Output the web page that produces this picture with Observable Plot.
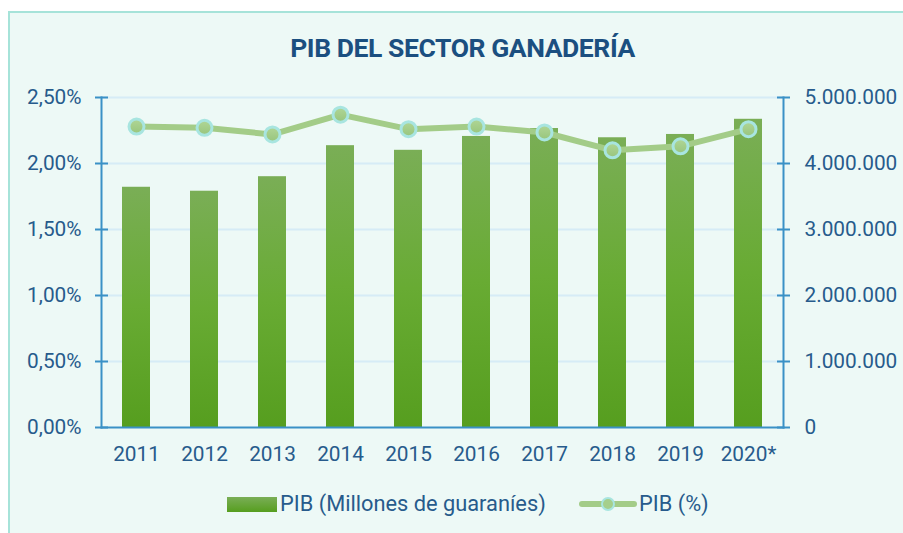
<!DOCTYPE html>
<html>
<head>
<meta charset="utf-8">
<script src="https://cdn.jsdelivr.net/npm/d3@7"></script>
<script src="https://cdn.jsdelivr.net/npm/@observablehq/plot@0.6"></script>
<style>
  html, body { margin: 0; padding: 0; background: #ffffff; }
  body { width: 903px; height: 533px; overflow: hidden; position: relative; font-family: Roboto, "Noto Sans", sans-serif; }
  #frame { position: absolute; left: 8px; top: 11px; width: 1000px; height: 600px; border-left: 2px solid #a6e3d9; border-top: 2px solid #a6e3d9; background: #edf9f6; }
  #title { position: absolute; left: 0; top: 35px; width: 925px; text-align: center; font: 700 26.5px/1 Roboto, sans-serif; color: #1b4f80; white-space: nowrap; }
  #chart { position: absolute; left: 0; top: 80px; }
  .leg { position: absolute; font: 400 21.8px/1 Roboto, sans-serif; color: #275b8c; white-space: nowrap; }
</style>
</head>
<body>
<div id="frame"></div>
<div id="title"><span id="titleText">PIB DEL SECTOR GANADERÍA</span></div>
<div id="chart"></div>
<div id="legend"></div>
<script>
// ---- data ----
const years = ["2011", "2012", "2013", "2014", "2015", "2016", "2017", "2018", "2019", "2020*"];
const pibMillones = [3640000, 3580000, 3800000, 4270000, 4200000, 4410000, 4530000, 4390000, 4440000, 4670000];
const pibPct = [2.28, 2.27, 2.22, 2.37, 2.26, 2.28, 2.235, 2.10, 2.13, 2.26];
const leftTicks = [0, 0.5, 1.0, 1.5, 2.0, 2.5];
const rightTicks = [0, 1000000, 2000000, 3000000, 4000000, 5000000];
const seriesNames = ["PIB (Millones de guaraníes)", "PIB (%)"];
const titleText = "PIB DEL SECTOR GANADERÍA";

document.getElementById("titleText").textContent = titleText;

const locale = d3.formatLocale({decimal: ",", thousands: ".", grouping: [3], currency: ["", ""]});
const fmtPct = v => locale.format(".2f")(v) + "%";
const fmtNum = locale.format(",");

const rightMax = d3.max(rightTicks);
const leftMax = d3.max(leftTicks);
const toLeft = v => v / rightMax * leftMax;

const data = years.map((y, i) => ({year: y, pib: pibMillones[i], pct: pibPct[i]}));

const axisColor = "#3a91c6";

const defs = () => {
  const d = d3.create("svg:defs");
  const g = d.append("linearGradient").attr("id", "barGrad").attr("x1", 0).attr("y1", 0).attr("x2", 0).attr("y2", 1);
  g.append("stop").attr("offset", "0%").attr("stop-color", "#7aae56");
  g.append("stop").attr("offset", "50%").attr("stop-color", "#68ab33");
  g.append("stop").attr("offset", "100%").attr("stop-color", "#569e1f");
  const g2 = d.append("linearGradient").attr("id", "dotGrad").attr("x1", 0).attr("y1", 0).attr("x2", 0).attr("y2", 1);
  g2.append("stop").attr("offset", "0%").attr("stop-color", "#b0d697");
  g2.append("stop").attr("offset", "100%").attr("stop-color", "#98c57c");
  return d.node();
};

const chart = Plot.plot({
  width: 903,
  height: 400,
  marginTop: 17,
  marginBottom: 53,
  marginLeft: 101,
  marginRight: 120,
  style: {fontFamily: "Roboto, sans-serif", fontSize: "20.8px", color: "#275b8c", background: "transparent", overflow: "visible"},
  x: {type: "band", domain: years, paddingInner: 0.59, paddingOuter: 0.295, label: null},
  y: {domain: [0, leftMax], label: null},
  marks: [
    defs,
    Plot.gridY(leftTicks.slice(1), {stroke: "#d6ecf6", strokeOpacity: 1, strokeWidth: 2}),
    Plot.barY(data, {x: "year", y: d => toLeft(d.pib), fill: "url(#barGrad)"}),
    Plot.frame({anchor: "left", stroke: axisColor, strokeWidth: 2}),
    Plot.frame({anchor: "right", stroke: axisColor, strokeWidth: 2}),
    Plot.frame({anchor: "bottom", stroke: axisColor, strokeWidth: 2}),
    // left axis ticks (crossing the axis) + labels
    Plot.axisY(leftTicks, {anchor: "left", tickSize: 13, dx: 7, tickFormat: () => "", stroke: axisColor, strokeWidth: 2, label: null}),
    Plot.axisY(leftTicks, {anchor: "left", tickSize: 0, tickPadding: 20, tickFormat: fmtPct, label: null}),
    // right axis (values in guaraníes)
    Plot.axisY(rightTicks.map(toLeft), {anchor: "right", tickSize: 13, dx: -7, tickFormat: () => "", stroke: axisColor, strokeWidth: 2, label: null}),
    Plot.axisY(rightTicks.map(toLeft), {anchor: "right", tickSize: 0, tickPadding: 21, tickFormat: (v, i) => fmtNum(rightTicks[i]), label: null}),
    Plot.axisX({anchor: "bottom", tickSize: 0, tickPadding: 19, label: null}),
    Plot.line(data, {x: "year", y: "pct", stroke: "#a3cc88", strokeWidth: 6}),
    Plot.dot(data, {x: "year", y: "pct", r: 7.5, fill: "url(#dotGrad)", stroke: "#a8e5e0", strokeWidth: 3})
  ]
});
document.getElementById("chart").appendChild(chart);

// legend
const legend = document.getElementById("legend");
legend.innerHTML = `
  <div style="position:absolute;left:227px;top:497px;width:50px;height:15px;background:linear-gradient(#7aae56,#569e1f);"></div>
  <div class="leg" style="left:280px;top:493px;">${seriesNames[0]}</div>
  <div style="position:absolute;left:579px;top:501px;width:58px;height:6px;border-radius:3px;background:#a3cc88;"></div>
  <div style="position:absolute;left:601px;top:497px;width:10px;height:10px;border-radius:50%;background:#a5cf8c;border:2px solid #a8e5e0;"></div>
  <div class="leg" style="left:639px;top:493px;">${seriesNames[1]}</div>
`;

// fit the title to the reference's condensed width
const span = document.getElementById("titleText");
const w = span.getBoundingClientRect().width;
const target = 345;
span.style.letterSpacing = ((target - w) / (titleText.length - 1)).toFixed(2) + "px";
</script>
</body>
</html>
